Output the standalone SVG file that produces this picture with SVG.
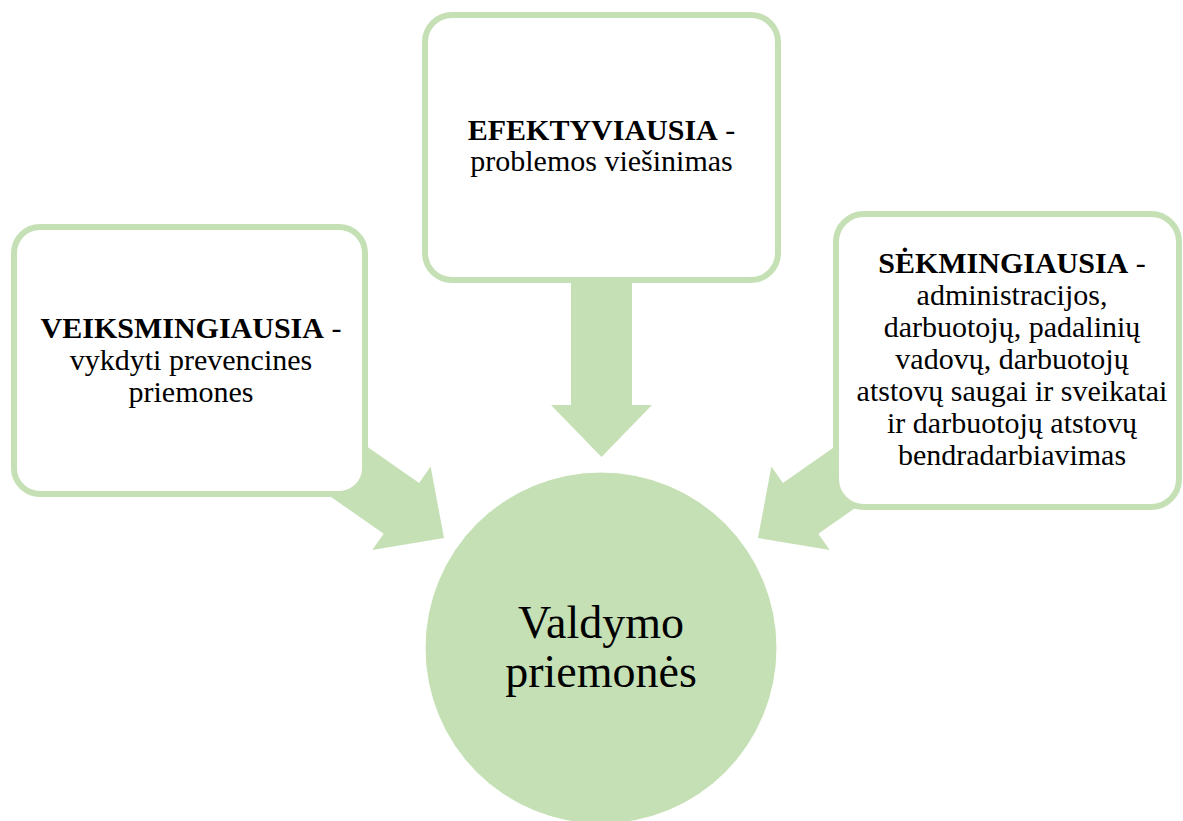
<svg xmlns="http://www.w3.org/2000/svg" width="1183" height="821" viewBox="0 0 1183 821">
<style>
.box{fill:#ffffff;stroke:#C5E0B4;stroke-width:6}
.arrow{fill:#C5E0B4;stroke:none}
.circ{fill:#C5E0B4;stroke:#ffffff;stroke-width:1}
text{font-family:"Liberation Serif","Times New Roman",serif;fill:#000000;text-anchor:middle}
.t{font-size:30px}
.b{font-weight:bold}
.big{font-size:46px}
</style>
<rect width="1183" height="821" fill="#ffffff"/>
<g id="connectors">
<polygon class="arrow" points="571,200 632,200 632,405 652,405 601.5,457 551,405 571,405"/>
<polygon class="arrow" points="296.1,397.1 419.1,482.9 430.6,466.5 444,538 372.2,550.1 383.7,533.7 260.7,447.9"/>
<polygon class="arrow" points="905.9,397.1 782.9,482.9 771.4,466.5 758,538 829.8,550.1 818.3,533.7 941.3,447.9"/>
</g>
<g id="node-top">
<rect class="box" x="425" y="15" width="353" height="265" rx="27" ry="27"/>
<text class="t" x="601.5" y="140"><tspan class="b">EFEKTYVIAUSIA</tspan> -</text>
<text class="t" x="601.5" y="171">problemos viešinimas</text>
</g>
<g id="node-left">
<rect class="box" x="14" y="227" width="351" height="267" rx="26" ry="26"/>
<text class="t" x="191" y="338"><tspan class="b">VEIKSMINGIAUSIA</tspan> -</text>
<text class="t" x="191" y="370">vykdyti prevencines</text>
<text class="t" x="191" y="402">priemones</text>
</g>
<g id="node-right">
<rect class="box" x="836" y="214" width="343" height="293" rx="28" ry="28"/>
<text class="t" x="1012" y="273"><tspan class="b">SĖKMINGIAUSIA</tspan> -</text>
<text class="t" x="1012" y="305">administracijos,</text>
<text class="t" x="1012" y="337">darbuotojų, padalinių</text>
<text class="t" x="1012" y="369">vadovų, darbuotojų</text>
<text class="t" x="1012" y="401">atstovų saugai ir sveikatai</text>
<text class="t" x="1012" y="433">ir darbuotojų atstovų</text>
<text class="t" x="1012" y="465">bendradarbiavimas</text>
</g>
<g id="node-center">
<circle class="circ" cx="601" cy="648" r="176"/>
<text class="big" x="601" y="638">Valdymo</text>
<text class="big" x="601" y="687">priemonės</text>
</g>
</svg>
